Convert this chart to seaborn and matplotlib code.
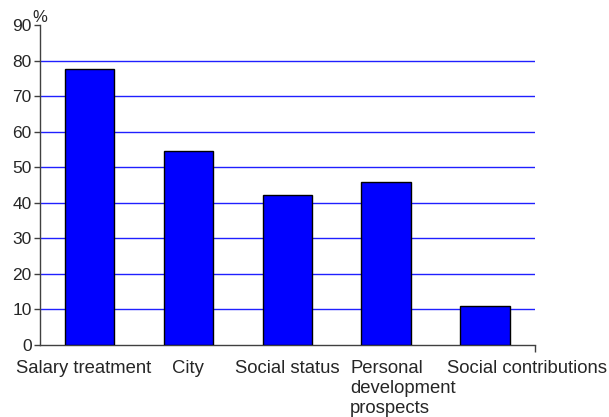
import matplotlib
matplotlib.use("Agg")
import matplotlib.pyplot as plt
import matplotlib.transforms as mtransforms
import seaborn as sns
import pandas as pd

categories = ["Salary treatment", "City", "Social status",
              "Personal\ndevelopment\nprospects", "Social contributions"]
values = [77.5, 54.5, 42.3, 45.7, 11.0]
y_ticks = [0, 10, 20, 30, 40, 50, 60, 70, 80, 90]

sns.set_style("white")
plt.rcParams["font.family"] = ["Liberation Sans", "DejaVu Sans"]

df = pd.DataFrame({"factor": categories, "share": values})

fig = plt.figure(figsize=(6.09, 4.17), dpi=100)
ax = fig.add_axes([0.0657, 0.173, 0.812, 0.767])

sns.barplot(data=df, x="factor", y="share", color="#0000FF", saturation=1,
            width=0.5, edgecolor="black", linewidth=1, ax=ax, zorder=3)

ax.set_ylim(0, 90)
ax.set_xlim(-0.5, 4.5)
ax.set_yticks(y_ticks)
ax.set_yticklabels([str(t) for t in y_ticks], fontsize=12.5)
ax.set_xlabel("")
ax.set_ylabel("")

# horizontal grid lines (none at the top edge)
for t in y_ticks[1:-1]:
    ax.axhline(t, color="#2020FF", lw=1, zorder=1)

for side in ["top", "right"]:
    ax.spines[side].set_visible(False)
for side in ["left", "bottom"]:
    ax.spines[side].set_color("#404040")
    ax.spines[side].set_linewidth(1)

ax.tick_params(axis="y", direction="out", length=4, width=1, color="#404040",
               pad=2, left=True)
ax.tick_params(axis="x", which="major", length=0, pad=11, labelsize=13.3)
ax.set_xticks([4.5], minor=True)
ax.tick_params(axis="x", which="minor", direction="out", length=5, width=1,
               color="#404040", bottom=True)

# category label placement
offsets = [-6, 0, 0, -36, 42]
aligns = ["center", "center", "center", "left", "center"]
for lab, dx, ha in zip(ax.get_xticklabels(), offsets, aligns):
    lab.set_ha(ha)
    lab.set_multialignment("left")
    lab.set_linespacing(1.22)
    lab.set_transform(lab.get_transform() +
                      mtransforms.ScaledTranslation(dx / 100, 0, fig.dpi_scale_trans))

ax.text(0.0, 1.0, "%", transform=ax.transAxes + mtransforms.ScaledTranslation(
            0, 0.0, fig.dpi_scale_trans),
        fontsize=12, ha="center", va="bottom")

fig.savefig("out.png", dpi=100)
